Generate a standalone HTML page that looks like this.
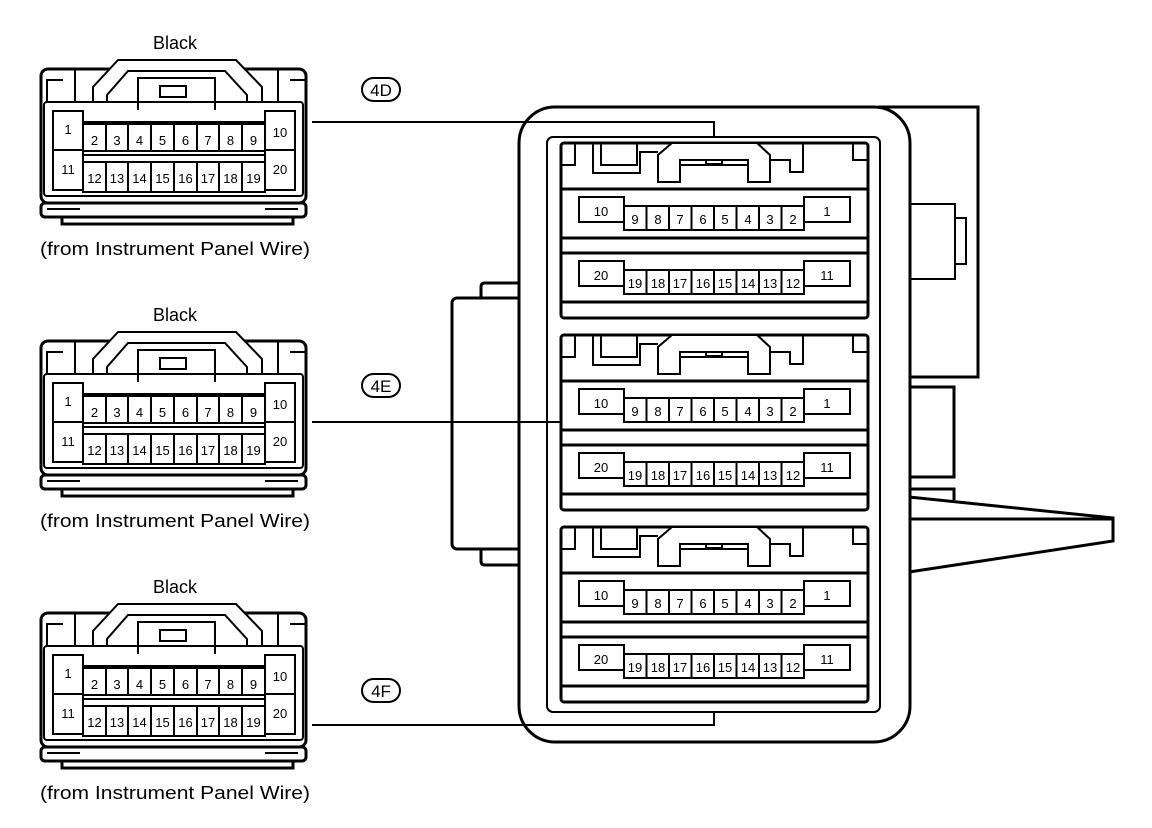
<!DOCTYPE html>
<html><head><meta charset="utf-8"><style>
html,body{margin:0;padding:0;background:#fff;}
svg{display:block;}
text{font-family:"Liberation Sans",Arial,sans-serif;fill:#000;}
.s{fill:none;stroke:#000;stroke-width:2;}
.t{fill:none;stroke:#000;stroke-width:3;}
.w{fill:#fff;stroke:#000;stroke-width:2;}
</style></head><body>
<svg width="1152" height="828" viewBox="0 0 1152 828" xmlns="http://www.w3.org/2000/svg">
<!-- LEFT CONNECTORS -->
<g>
<text x="175" y="49" font-size="18" text-anchor="middle">Black</text>
<text x="40" y="255" font-size="18" textLength="270" lengthAdjust="spacingAndGlyphs">(from Instrument Panel Wire)</text>
<rect x="41" y="69" width="265" height="134" rx="7" class="t"/>
<path d="M93 103 V87 L118 60 H236 L262 87 V103" class="w" stroke-width="3"/>
<path d="M107 103 V95 L128 71 H225 L247 95 V103" class="s"/>
<path d="M138 110 V78 H215 V110" class="s"/>
<rect x="160" y="86" width="26" height="11" class="s"/>
<path d="M47 103 V80 H63 M75 69 V103 M306 80 H290 M278 69 V103" class="s"/>
<rect x="44" y="102" width="259" height="94" rx="3" class="s"/>
<rect x="53" y="111" width="30" height="39" class="s"/>
<rect x="53" y="150" width="30" height="40" class="s"/>
<rect x="265" y="111" width="30" height="39" class="s"/>
<rect x="265" y="150" width="30" height="40" class="s"/>
<path d="M83 122 H265 M83 155 H265" class="s"/>
<g class="s">
<rect x="83" y="124" width="182" height="27"/><rect x="83" y="162" width="182" height="30"/>
<path d="M106 124V151M128 124V151M151 124V151M174 124V151M197 124V151M219 124V151M242 124V151"/>
<path d="M106 162V192M128 162V192M151 162V192M174 162V192M197 162V192M219 162V192M242 162V192"/>
</g>
<g font-size="13">
<text x="68" y="134" text-anchor="middle">1</text><text x="68" y="174" text-anchor="middle">11</text>
<text x="280" y="137" text-anchor="middle">10</text><text x="280" y="174" text-anchor="middle">20</text>
<text x="94.5" y="145" text-anchor="middle">2</text><text x="117" y="145" text-anchor="middle">3</text><text x="139.5" y="145" text-anchor="middle">4</text><text x="162.5" y="145" text-anchor="middle">5</text><text x="185.5" y="145" text-anchor="middle">6</text><text x="208" y="145" text-anchor="middle">7</text><text x="230.5" y="145" text-anchor="middle">8</text><text x="253.5" y="145" text-anchor="middle">9</text>
<text x="94.5" y="183" text-anchor="middle">12</text><text x="117" y="183" text-anchor="middle">13</text><text x="139.5" y="183" text-anchor="middle">14</text><text x="162.5" y="183" text-anchor="middle">15</text><text x="185.5" y="183" text-anchor="middle">16</text><text x="208" y="183" text-anchor="middle">17</text><text x="230.5" y="183" text-anchor="middle">18</text><text x="253.5" y="183" text-anchor="middle">19</text>
</g>
<rect x="41" y="203" width="265" height="14" rx="4" class="t"/>
<path d="M62 216 V224 H293 V216" class="t"/>
<path d="M47 209 H80 M265 209 H298" class="s"/>
</g>
<g transform="translate(0,272)">
<text x="175" y="49" font-size="18" text-anchor="middle">Black</text>
<text x="40" y="255" font-size="18" textLength="270" lengthAdjust="spacingAndGlyphs">(from Instrument Panel Wire)</text>
<rect x="41" y="69" width="265" height="134" rx="7" class="t"/>
<path d="M93 103 V87 L118 60 H236 L262 87 V103" class="w" stroke-width="3"/>
<path d="M107 103 V95 L128 71 H225 L247 95 V103" class="s"/>
<path d="M138 110 V78 H215 V110" class="s"/>
<rect x="160" y="86" width="26" height="11" class="s"/>
<path d="M47 103 V80 H63 M75 69 V103 M306 80 H290 M278 69 V103" class="s"/>
<rect x="44" y="102" width="259" height="94" rx="3" class="s"/>
<rect x="53" y="111" width="30" height="39" class="s"/>
<rect x="53" y="150" width="30" height="40" class="s"/>
<rect x="265" y="111" width="30" height="39" class="s"/>
<rect x="265" y="150" width="30" height="40" class="s"/>
<path d="M83 122 H265 M83 155 H265" class="s"/>
<g class="s">
<rect x="83" y="124" width="182" height="27"/><rect x="83" y="162" width="182" height="30"/>
<path d="M106 124V151M128 124V151M151 124V151M174 124V151M197 124V151M219 124V151M242 124V151"/>
<path d="M106 162V192M128 162V192M151 162V192M174 162V192M197 162V192M219 162V192M242 162V192"/>
</g>
<g font-size="13">
<text x="68" y="134" text-anchor="middle">1</text><text x="68" y="174" text-anchor="middle">11</text>
<text x="280" y="137" text-anchor="middle">10</text><text x="280" y="174" text-anchor="middle">20</text>
<text x="94.5" y="145" text-anchor="middle">2</text><text x="117" y="145" text-anchor="middle">3</text><text x="139.5" y="145" text-anchor="middle">4</text><text x="162.5" y="145" text-anchor="middle">5</text><text x="185.5" y="145" text-anchor="middle">6</text><text x="208" y="145" text-anchor="middle">7</text><text x="230.5" y="145" text-anchor="middle">8</text><text x="253.5" y="145" text-anchor="middle">9</text>
<text x="94.5" y="183" text-anchor="middle">12</text><text x="117" y="183" text-anchor="middle">13</text><text x="139.5" y="183" text-anchor="middle">14</text><text x="162.5" y="183" text-anchor="middle">15</text><text x="185.5" y="183" text-anchor="middle">16</text><text x="208" y="183" text-anchor="middle">17</text><text x="230.5" y="183" text-anchor="middle">18</text><text x="253.5" y="183" text-anchor="middle">19</text>
</g>
<rect x="41" y="203" width="265" height="14" rx="4" class="t"/>
<path d="M62 216 V224 H293 V216" class="t"/>
<path d="M47 209 H80 M265 209 H298" class="s"/>
</g>
<g transform="translate(0,544)">
<text x="175" y="49" font-size="18" text-anchor="middle">Black</text>
<text x="40" y="255" font-size="18" textLength="270" lengthAdjust="spacingAndGlyphs">(from Instrument Panel Wire)</text>
<rect x="41" y="69" width="265" height="134" rx="7" class="t"/>
<path d="M93 103 V87 L118 60 H236 L262 87 V103" class="w" stroke-width="3"/>
<path d="M107 103 V95 L128 71 H225 L247 95 V103" class="s"/>
<path d="M138 110 V78 H215 V110" class="s"/>
<rect x="160" y="86" width="26" height="11" class="s"/>
<path d="M47 103 V80 H63 M75 69 V103 M306 80 H290 M278 69 V103" class="s"/>
<rect x="44" y="102" width="259" height="94" rx="3" class="s"/>
<rect x="53" y="111" width="30" height="39" class="s"/>
<rect x="53" y="150" width="30" height="40" class="s"/>
<rect x="265" y="111" width="30" height="39" class="s"/>
<rect x="265" y="150" width="30" height="40" class="s"/>
<path d="M83 122 H265 M83 155 H265" class="s"/>
<g class="s">
<rect x="83" y="124" width="182" height="27"/><rect x="83" y="162" width="182" height="30"/>
<path d="M106 124V151M128 124V151M151 124V151M174 124V151M197 124V151M219 124V151M242 124V151"/>
<path d="M106 162V192M128 162V192M151 162V192M174 162V192M197 162V192M219 162V192M242 162V192"/>
</g>
<g font-size="13">
<text x="68" y="134" text-anchor="middle">1</text><text x="68" y="174" text-anchor="middle">11</text>
<text x="280" y="137" text-anchor="middle">10</text><text x="280" y="174" text-anchor="middle">20</text>
<text x="94.5" y="145" text-anchor="middle">2</text><text x="117" y="145" text-anchor="middle">3</text><text x="139.5" y="145" text-anchor="middle">4</text><text x="162.5" y="145" text-anchor="middle">5</text><text x="185.5" y="145" text-anchor="middle">6</text><text x="208" y="145" text-anchor="middle">7</text><text x="230.5" y="145" text-anchor="middle">8</text><text x="253.5" y="145" text-anchor="middle">9</text>
<text x="94.5" y="183" text-anchor="middle">12</text><text x="117" y="183" text-anchor="middle">13</text><text x="139.5" y="183" text-anchor="middle">14</text><text x="162.5" y="183" text-anchor="middle">15</text><text x="185.5" y="183" text-anchor="middle">16</text><text x="208" y="183" text-anchor="middle">17</text><text x="230.5" y="183" text-anchor="middle">18</text><text x="253.5" y="183" text-anchor="middle">19</text>
</g>
<rect x="41" y="203" width="265" height="14" rx="4" class="t"/>
<path d="M62 216 V224 H293 V216" class="t"/>
<path d="M47 209 H80 M265 209 H298" class="s"/>
</g>

<!-- Labels -->
<g font-size="17">
<rect x="362" y="78" width="38" height="23" rx="11.5" class="s"/><text x="381" y="96" text-anchor="middle">4D</text>
<rect x="362" y="374" width="38" height="23" rx="11.5" class="s"/><text x="381" y="392" text-anchor="middle">4E</text>
<rect x="362" y="679" width="38" height="23" rx="11.5" class="s"/><text x="381" y="697" text-anchor="middle">4F</text>
</g>

<!-- RIGHT BLOCK extras -->
<g class="t">
<rect x="880" y="107" width="98" height="270"/>
<rect x="909" y="204" width="46" height="75" stroke-width="2"/>
<rect x="955" y="218" width="11" height="46" stroke-width="2"/>
<rect x="909" y="387" width="45" height="90"/>
<path d="M909 489 H954 V500"/>
<path d="M909 497 L1113 518 V541 L909 572 M909 519 H1113"/>
<rect x="452" y="298" width="80" height="251" rx="5"/>
<path d="M481 298 V287 Q481 283 485 283 H520 M481 549 V561 Q481 565 485 565 H520"/>
</g>
<rect x="519" y="107" width="391" height="635" rx="36" fill="#fff" stroke="#000" stroke-width="3"/>
<rect x="547" y="137" width="333" height="575" rx="6" class="s"/>

<!-- modules -->
<g>
<rect x="561" y="143" width="307" height="175" rx="3" class="t"/>
<path d="M561 189 H868 M561 238 H868 M561 253 H868 M561 302 H868" class="t"/>
<path d="M575 143 V165 H561 M593 143 V173 H640 V152 H658 M853 143 V160 H868 M803 143 V172 H790 V160 H770" class="s"/>
<rect x="601" y="143" width="36" height="22" class="s"/>
<path d="M658 182 V155 L672 143 H757 L770 155 V182 H748 V160 H680 V182 Z" class="w"/>
<path d="M680 165 H748 M706 160 V164 H722 V160" class="s"/>
<g class="w">
<rect x="579" y="197" width="45" height="25"/><rect x="804" y="197" width="46" height="25"/>
<rect x="624" y="206" width="180" height="24"/>
<rect x="579" y="261" width="45" height="25"/><rect x="804" y="261" width="46" height="25"/>
<rect x="624" y="270" width="180" height="24"/>
</g>
<path d="M646.5 206V230M669 206V230M691.5 206V230M714 206V230M736.5 206V230M759 206V230M781.5 206V230 M646.5 270V294M669 270V294M691.5 270V294M714 270V294M736.5 270V294M759 270V294M781.5 270V294" class="s"/>
<g font-size="13">
<text x="601" y="216" text-anchor="middle">10</text><text x="827" y="216" text-anchor="middle">1</text>
<text x="601" y="280" text-anchor="middle">20</text><text x="827" y="280" text-anchor="middle">11</text>
<text x="635" y="224" text-anchor="middle">9</text><text x="658" y="224" text-anchor="middle">8</text><text x="680" y="224" text-anchor="middle">7</text><text x="703" y="224" text-anchor="middle">6</text><text x="725" y="224" text-anchor="middle">5</text><text x="748" y="224" text-anchor="middle">4</text><text x="770" y="224" text-anchor="middle">3</text><text x="793" y="224" text-anchor="middle">2</text>
<text x="635" y="288" text-anchor="middle">19</text><text x="658" y="288" text-anchor="middle">18</text><text x="680" y="288" text-anchor="middle">17</text><text x="703" y="288" text-anchor="middle">16</text><text x="725" y="288" text-anchor="middle">15</text><text x="748" y="288" text-anchor="middle">14</text><text x="770" y="288" text-anchor="middle">13</text><text x="793" y="288" text-anchor="middle">12</text>
</g>
</g>
<g transform="translate(0,192)">
<rect x="561" y="143" width="307" height="175" rx="3" class="t"/>
<path d="M561 189 H868 M561 238 H868 M561 253 H868 M561 302 H868" class="t"/>
<path d="M575 143 V165 H561 M593 143 V173 H640 V152 H658 M853 143 V160 H868 M803 143 V172 H790 V160 H770" class="s"/>
<rect x="601" y="143" width="36" height="22" class="s"/>
<path d="M658 182 V155 L672 143 H757 L770 155 V182 H748 V160 H680 V182 Z" class="w"/>
<path d="M680 165 H748 M706 160 V164 H722 V160" class="s"/>
<g class="w">
<rect x="579" y="197" width="45" height="25"/><rect x="804" y="197" width="46" height="25"/>
<rect x="624" y="206" width="180" height="24"/>
<rect x="579" y="261" width="45" height="25"/><rect x="804" y="261" width="46" height="25"/>
<rect x="624" y="270" width="180" height="24"/>
</g>
<path d="M646.5 206V230M669 206V230M691.5 206V230M714 206V230M736.5 206V230M759 206V230M781.5 206V230 M646.5 270V294M669 270V294M691.5 270V294M714 270V294M736.5 270V294M759 270V294M781.5 270V294" class="s"/>
<g font-size="13">
<text x="601" y="216" text-anchor="middle">10</text><text x="827" y="216" text-anchor="middle">1</text>
<text x="601" y="280" text-anchor="middle">20</text><text x="827" y="280" text-anchor="middle">11</text>
<text x="635" y="224" text-anchor="middle">9</text><text x="658" y="224" text-anchor="middle">8</text><text x="680" y="224" text-anchor="middle">7</text><text x="703" y="224" text-anchor="middle">6</text><text x="725" y="224" text-anchor="middle">5</text><text x="748" y="224" text-anchor="middle">4</text><text x="770" y="224" text-anchor="middle">3</text><text x="793" y="224" text-anchor="middle">2</text>
<text x="635" y="288" text-anchor="middle">19</text><text x="658" y="288" text-anchor="middle">18</text><text x="680" y="288" text-anchor="middle">17</text><text x="703" y="288" text-anchor="middle">16</text><text x="725" y="288" text-anchor="middle">15</text><text x="748" y="288" text-anchor="middle">14</text><text x="770" y="288" text-anchor="middle">13</text><text x="793" y="288" text-anchor="middle">12</text>
</g>
</g>
<g transform="translate(0,384)">
<rect x="561" y="143" width="307" height="175" rx="3" class="t"/>
<path d="M561 189 H868 M561 238 H868 M561 253 H868 M561 302 H868" class="t"/>
<path d="M575 143 V165 H561 M593 143 V173 H640 V152 H658 M853 143 V160 H868 M803 143 V172 H790 V160 H770" class="s"/>
<rect x="601" y="143" width="36" height="22" class="s"/>
<path d="M658 182 V155 L672 143 H757 L770 155 V182 H748 V160 H680 V182 Z" class="w"/>
<path d="M680 165 H748 M706 160 V164 H722 V160" class="s"/>
<g class="w">
<rect x="579" y="197" width="45" height="25"/><rect x="804" y="197" width="46" height="25"/>
<rect x="624" y="206" width="180" height="24"/>
<rect x="579" y="261" width="45" height="25"/><rect x="804" y="261" width="46" height="25"/>
<rect x="624" y="270" width="180" height="24"/>
</g>
<path d="M646.5 206V230M669 206V230M691.5 206V230M714 206V230M736.5 206V230M759 206V230M781.5 206V230 M646.5 270V294M669 270V294M691.5 270V294M714 270V294M736.5 270V294M759 270V294M781.5 270V294" class="s"/>
<g font-size="13">
<text x="601" y="216" text-anchor="middle">10</text><text x="827" y="216" text-anchor="middle">1</text>
<text x="601" y="280" text-anchor="middle">20</text><text x="827" y="280" text-anchor="middle">11</text>
<text x="635" y="224" text-anchor="middle">9</text><text x="658" y="224" text-anchor="middle">8</text><text x="680" y="224" text-anchor="middle">7</text><text x="703" y="224" text-anchor="middle">6</text><text x="725" y="224" text-anchor="middle">5</text><text x="748" y="224" text-anchor="middle">4</text><text x="770" y="224" text-anchor="middle">3</text><text x="793" y="224" text-anchor="middle">2</text>
<text x="635" y="288" text-anchor="middle">19</text><text x="658" y="288" text-anchor="middle">18</text><text x="680" y="288" text-anchor="middle">17</text><text x="703" y="288" text-anchor="middle">16</text><text x="725" y="288" text-anchor="middle">15</text><text x="748" y="288" text-anchor="middle">14</text><text x="770" y="288" text-anchor="middle">13</text><text x="793" y="288" text-anchor="middle">12</text>
</g>
</g>
<path d="M312 122 H714 V137 M312 422 H562 M312 725 H714 V712" class="s"/>
</svg>
</body></html>
